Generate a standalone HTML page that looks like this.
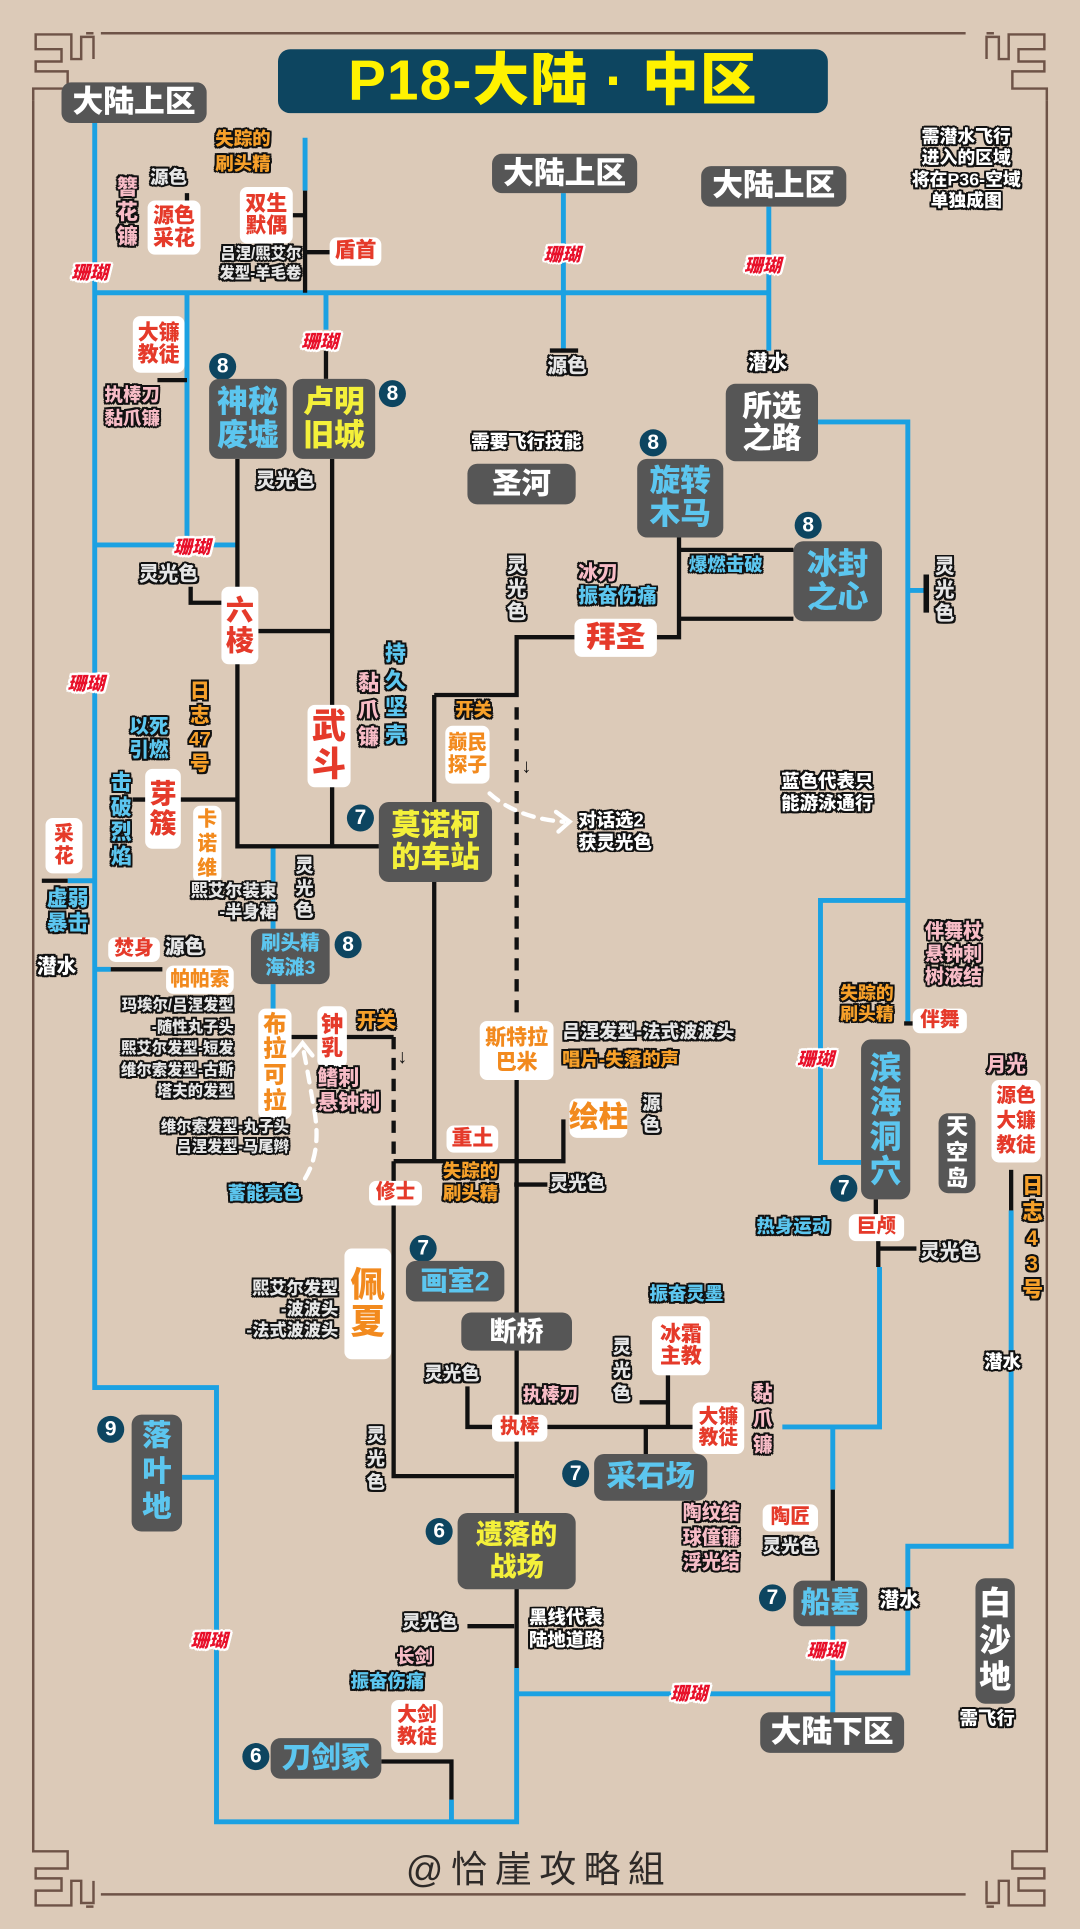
<!DOCTYPE html>
<html><head><meta charset="utf-8">
<style>
html,body{margin:0;padding:0;}
body{width:1080px;height:1929px;overflow:hidden;background:#dccab8;}
#w{position:absolute;left:0;top:0;width:878px;height:1568px;transform:scale(1.2301);transform-origin:0 0;font-family:"Liberation Sans","Noto Sans CJK SC",sans-serif;}
.a{position:absolute;white-space:nowrap;font-weight:900;line-height:1.2;}
.o{text-shadow:-1.5px -1.5px 0 #111,1.5px -1.5px 0 #111,-1.5px 1.5px 0 #111,1.5px 1.5px 0 #111,0 -1.6px 0 #111,0 1.6px 0 #111,-1.6px 0 0 #111,1.6px 0 0 #111;}
.gw{color:#e6e6e6}.pk{color:#f7bcc6}.bl{color:#5cc6ef}.or{color:#f6a02a}.wt{color:#fff}
.bx{position:absolute;display:flex;align-items:center;justify-content:center;text-align:center;font-weight:900;line-height:1.08;white-space:nowrap;}
.wb{background:#fff;border-radius:6px;color:#e53a2a;}
.wo{background:#fff;border-radius:6px;color:#f28a1e;}
.gb{background:#565656;border-radius:8px;color:#fff;}
.gb.bl{color:#5cc6ef}.gb.yl{color:#f4f03a}
.n{position:absolute;width:22px;height:22px;border-radius:50%;background:#0d4560;color:#fff;font-weight:900;font-size:17px;line-height:22px;text-align:center;}
.cr{position:absolute;color:#e8102a;font-weight:900;font-style:italic;font-size:15px;white-space:nowrap;text-shadow:-1.5px -1.5px 0 #fff,1.5px -1.5px 0 #fff,-1.5px 1.5px 0 #fff,1.5px 1.5px 0 #fff,0 2px 0 #fff,0 -2px 0 #fff,2px 0 0 #fff,-2px 0 0 #fff;}
.r{text-align:right}
.c{text-align:center}
</style></head><body><div id="w">
<svg width="878" height="1568" style="position:absolute;left:0;top:0">
<g fill="none" stroke="#6e5347" stroke-width="2">
<path d="M82 27H785M27 82V1495M851 82V1495M82 1540H785"/>
<path d="M27 82V72H55V58H29V50H50V40H29V28H58V48H66V30H76V48M70 27H76"/>
<path d="M851 82V72H823V58H849V50H828V40H849V28H820V48H812V30H802V48M808 27H802"/>
<path d="M27 1495V1505H55V1519H29V1527H50V1537H29V1549H58V1529H66V1547H76V1529M70 1550H76"/>
<path d="M851 1495V1505H823V1519H849V1527H828V1537H849V1549H820V1529H812V1547H802V1529M808 1550H802"/>
</g>
<g fill="none" stroke="#1ba1e2" stroke-width="4">
<path d="M77 100V1128H176V1481H420V1356"/>
<path d="M77 238H625"/>
<path d="M248 112V155"/>
<path d="M152 238V443M77 443H193"/>
<path d="M265 238V268"/>
<path d="M458 157V285"/>
<path d="M625 168V285"/>
<path d="M665 343H738V832"/>
<path d="M738 480H753"/>
<path d="M738 732H667V945H700"/>
<path d="M822 984V1257H738V1360H677"/>
<path d="M677 1320V1395"/>
<path d="M420 1377H677"/>
<path d="M636 1160H715V1030"/>
<path d="M677 1160V1211"/>
<path d="M222 688V755M222 800V820"/>
<path d="M55 716H77M90 788H77"/>
<path d="M148 1201H176"/>
<path d="M367 1463V1481"/>
</g>
<g fill="none" stroke="#111" stroke-width="3.5">
<path d="M248 155V238M238 175H248M248 205H268"/>
<path d="M152 157V164"/>
<path d="M128 309H152"/>
<path d="M265 285V308M447 285H470"/>
<path d="M193 373V688H308"/>
<path d="M270 373V688"/>
<path d="M155 477V490H180"/>
<path d="M210 513H270"/>
<path d="M108 650H193"/>
<path d="M34 716H55"/>
<path d="M90 788H132"/>
<path d="M237 843H320"/>
<path d="M320 944V1200H418"/>
<path d="M320 944H458V910"/>
<path d="M418 963H445"/>
<path d="M353 565V944"/>
<path d="M353 565H420V518H467M534 518H552V437M552 447H645M552 503H645"/>
<path d="M420 878V1356"/>
<path d="M380 1127V1160H583"/>
<path d="M525 1160V1185"/>
<path d="M543 1118V1160M520 1140H543"/>
<path d="M380 1322H418"/>
<path d="M310 1432H367V1463"/>
<path d="M712 975V987M714 1008V1030M714 1015H745"/>
<path d="M677 1211V1288"/>
<path d="M735 832H742"/>
<path d="M822 951V984"/>
<path d="M753 467V498" stroke-width="4.5"/>
<path d="M320 843V944M420 575V830" stroke-dasharray="10 7"/>
</g>
<g fill="none" stroke="#fff" stroke-width="3.5" stroke-dasharray="9 7" stroke-linecap="round">
<path d="M398 645Q420 665 458 668"/>
<path d="M248 958Q262 935 255 900Q250 870 246 850"/>
</g>
<g fill="none" stroke="#fff" stroke-width="3.5" stroke-linecap="round">
<path d="M452 660L463 668L454 676"/>
<path d="M238 858L246 848L254 858"/>
</g>
</svg>

<div class="bx" style="left:226px;top:40px;width:447px;height:52px;background:#0d4560;border-radius:10px;color:#fff200;font-size:46px;letter-spacing:1px">P18-大陆 · 中区</div>

<div class="bx gb" style="left:50px;top:67px;width:118px;height:33px;font-size:25px">大陆上区</div>
<div class="bx gb" style="left:400px;top:125px;width:118px;height:32px;font-size:25px">大陆上区</div>
<div class="bx gb" style="left:570px;top:135px;width:118px;height:33px;font-size:25px">大陆上区</div>
<div class="a o wt c" style="left:718px;top:104px;width:135px;font-size:14.5px">需潜水飞行<br>进入的区域<br>将在P36-空域<br>单独成图</div>

<div class="a o or" style="left:175px;top:104px;font-size:15px;line-height:1.3">失踪的<br>刷头精</div>
<div class="a o gw" style="left:122px;top:136px;font-size:15px">源色</div>
<div class="a o pk c" style="left:95px;top:143px;font-size:17px;line-height:1.17">簪<br>花<br>镰</div>
<div class="bx wb" style="left:120px;top:163px;width:43px;height:44px;font-size:17px">源色<br>采花</div>
<div class="bx wb" style="left:195px;top:152px;width:43px;height:46px;font-size:17px">双生<br>默偶</div>
<div class="a o gw r" style="left:160px;top:198px;width:85px;font-size:12.5px;line-height:1.3">吕涅/熙艾尔<br>发型-羊毛卷</div>
<div class="bx wb" style="left:268px;top:193px;width:42px;height:23px;font-size:17px">盾首</div>
<div class="cr" style="left:58px;top:211px">珊瑚</div>
<div class="cr" style="left:442px;top:196px">珊瑚</div>
<div class="cr" style="left:605px;top:205px">珊瑚</div>
<div class="a o gw" style="left:445px;top:289px;font-size:16px">源色</div>
<div class="a o wt" style="left:608px;top:286px;font-size:16px">潜水</div>
<div class="bx gb" style="left:590px;top:312px;width:75px;height:63px;font-size:24px">所选<br>之路</div>

<div class="bx wb" style="left:108px;top:257px;width:42px;height:46px;font-size:17px">大镰<br>教徒</div>
<div class="a o pk" style="left:85px;top:313px;font-size:15px;line-height:1.25">执棒刀<br>黏爪镰</div>
<div class="cr" style="left:245px;top:267px">珊瑚</div>
<div class="n" style="left:170px;top:287px">8</div>
<div class="bx gb bl" style="left:170px;top:308px;width:63px;height:65px;font-size:25px">神秘<br>废墟</div>
<div class="bx gb yl" style="left:238px;top:308px;width:67px;height:65px;font-size:25px">卢明<br>旧城</div>
<div class="n" style="left:308px;top:309px">8</div>
<div class="a o gw" style="left:208px;top:382px;font-size:16px">灵光色</div>
<div class="cr" style="left:141px;top:434px">珊瑚</div>
<div class="a o gw" style="left:113px;top:458px;font-size:16px">灵光色</div>
<div class="bx wb" style="left:180px;top:477px;width:30px;height:63px;font-size:23px">六<br>棱</div>
<div class="cr" style="left:55px;top:545px">珊瑚</div>
<div class="a o bl" style="left:105px;top:582px;font-size:16px">以死<br>引燃</div>
<div class="a o or c" style="left:150px;top:553px;width:25px;font-size:16px;line-height:1.22">日<br>志<br>47<br>号</div>
<div class="a o bl c" style="left:90px;top:627px;font-size:17px;line-height:1.17">击<br>破<br>烈<br>焰</div>
<div class="bx wb" style="left:118px;top:625px;width:29px;height:65px;font-size:22px">芽<br>簇</div>
<div class="bx wo" style="left:157px;top:655px;width:23px;height:63px;font-size:16px;line-height:1.25">卡<br>诺<br>维</div>
<div class="a o gw r" style="left:120px;top:716px;width:105px;font-size:14px">熙艾尔装束<br>-半身裙</div>
<div class="bx wb" style="left:37px;top:665px;width:30px;height:45px;font-size:16px">采<br>花</div>
<div class="a o bl" style="left:38px;top:721px;font-size:17px">虚弱<br>暴击</div>
<div class="a o wt" style="left:30px;top:777px;font-size:16px">潜水</div>
<div class="bx wb" style="left:88px;top:762px;width:42px;height:20px;font-size:16px">焚身</div>
<div class="a o gw" style="left:134px;top:761px;font-size:16px">源色</div>
<div class="bx wo" style="left:135px;top:785px;width:55px;height:23px;font-size:16px">帕帕索</div>
<div class="a o gw r" style="left:80px;top:809px;width:110px;font-size:12.5px;line-height:1.4">玛埃尔/吕涅发型<br>-随性丸子头<br>熙艾尔发型-短发<br>维尔索发型-古斯<br>塔夫的发型</div>
<div class="a o gw c" style="left:240px;top:696px;font-size:15px;line-height:1.2">灵<br>光<br>色</div>
<div class="bx gb bl" style="left:204px;top:755px;width:64px;height:45px;font-size:16px;line-height:1.2">刷头精<br>海滩3</div>
<div class="n" style="left:272px;top:757px">8</div>
<div class="bx wo" style="left:210px;top:820px;width:27px;height:90px;font-size:19px">布<br>拉<br>可<br>拉</div>
<div class="bx wb" style="left:258px;top:818px;width:24px;height:50px;font-size:18px">钟<br>乳</div>
<div class="a o or" style="left:290px;top:821px;font-size:16px">开关</div>
<div class="a" style="left:323px;top:850px;font-size:16px;color:#111;font-weight:400">↓</div>
<div class="a o pk" style="left:258px;top:867px;font-size:17px">鳍刺<br>悬钟刺</div>
<div class="a o gw r" style="left:105px;top:908px;width:130px;font-size:12.5px;line-height:1.3">维尔索发型-丸子头<br>吕涅发型-马尾辫</div>
<div class="a o bl" style="left:185px;top:962px;font-size:15px">蓄能亮色</div>

<div class="a o wt" style="left:383px;top:351px;font-size:15px">需要飞行技能</div>
<div class="bx gb" style="left:380px;top:377px;width:88px;height:33px;font-size:24px">圣河</div>
<div class="n" style="left:520px;top:349px">8</div>
<div class="bx gb bl" style="left:518px;top:373px;width:70px;height:64px;font-size:25px">旋转<br>木马</div>
<div class="n" style="left:646px;top:416px">8</div>
<div class="bx gb bl" style="left:645px;top:440px;width:72px;height:65px;font-size:25px">冰封<br>之心</div>
<div class="a o bl" style="left:560px;top:451px;font-size:15px">爆燃击破</div>
<div class="a o gw c" style="left:412px;top:451px;font-size:16px;line-height:1.2">灵<br>光<br>色</div>
<div class="a o pk" style="left:470px;top:457px;font-size:16px">冰刀</div>
<div class="a o bl" style="left:470px;top:476px;font-size:16px">振奋伤痛</div>
<div class="bx wb" style="left:467px;top:503px;width:67px;height:31px;font-size:24px">拜圣</div>
<div class="a o gw c" style="left:760px;top:452px;font-size:16px;line-height:1.2">灵<br>光<br>色</div>
<div class="a o or" style="left:370px;top:569px;font-size:15px">开关</div>
<div class="a" style="left:424px;top:614px;font-size:16px;color:#111;font-weight:400">↓</div>
<div class="bx wo" style="left:362px;top:590px;width:36px;height:47px;font-size:16px">巅民<br>探子</div>
<div class="a o wt" style="left:470px;top:659px;font-size:15px">对话选2<br>获灵光色</div>
<div class="a o bl c" style="left:313px;top:521px;font-size:17px;line-height:1.3">持<br>久<br>坚<br>壳</div>
<div class="a o pk c" style="left:291px;top:545px;font-size:17px;line-height:1.3">黏<br>爪<br>镰</div>
<div class="bx wb" style="left:250px;top:573px;width:35px;height:67px;font-size:28px">武<br>斗</div>
<div class="n" style="left:282px;top:654px">7</div>
<div class="bx gb yl" style="left:308px;top:652px;width:92px;height:65px;font-size:24px">莫诺柯<br>的车站</div>

<div class="a o wt" style="left:635px;top:627px;font-size:15px">蓝色代表只<br>能游泳通行</div>
<div class="a o pk" style="left:752px;top:749px;font-size:15.5px">伴舞杖<br>悬钟刺<br>树液结</div>
<div class="a o or" style="left:683px;top:800px;font-size:14.5px">失踪的<br>刷头精</div>
<div class="bx wb" style="left:742px;top:820px;width:44px;height:20px;font-size:16px">伴舞</div>
<div class="cr" style="left:648px;top:850px">珊瑚</div>
<div class="bx gb bl" style="left:700px;top:845px;width:40px;height:130px;font-size:26px">滨<br>海<br>洞<br>穴</div>
<div class="n" style="left:675px;top:955px">7</div>
<div class="bx gb" style="left:763px;top:905px;width:30px;height:65px;font-size:18px;line-height:1.15">天<br>空<br>岛</div>
<div class="a o pk" style="left:802px;top:857px;font-size:16px">月光</div>
<div class="bx wb" style="left:806px;top:878px;width:40px;height:67px;font-size:16px;line-height:1.25">源色<br>大镰<br>教徒</div>
<div class="a o or c" style="left:831px;top:954px;width:16px;font-size:17px;line-height:1.24">日<br>志<br>4<br>3<br>号</div>
<div class="a o bl" style="left:615px;top:989px;font-size:15px">热身运动</div>
<div class="bx wb" style="left:690px;top:987px;width:45px;height:22px;font-size:16px">巨颅</div>
<div class="a o gw" style="left:748px;top:1009px;font-size:16px">灵光色</div>
<div class="a o wt" style="left:800px;top:1099px;font-size:15px">潜水</div>

<div class="bx wo" style="left:390px;top:830px;width:60px;height:48px;font-size:17px;line-height:1.2">斯特拉<br>巴米</div>
<div class="a o gw" style="left:457px;top:831px;font-size:15px">吕涅发型-法式波波头</div>
<div class="a o or" style="left:457px;top:853px;font-size:15px">唱片-失落的声</div>
<div class="bx wo" style="left:463px;top:893px;width:47px;height:32px;font-size:24px">绘柱</div>
<div class="a o gw c" style="left:522px;top:889px;font-size:15px">源<br>色</div>
<div class="bx wb" style="left:363px;top:915px;width:42px;height:22px;font-size:17px">重土</div>
<div class="a o or" style="left:360px;top:944px;font-size:15px">失踪的<br>刷头精</div>
<div class="a o gw" style="left:447px;top:954px;font-size:15px">灵光色</div>
<div class="bx wb" style="left:300px;top:960px;width:43px;height:20px;font-size:16px">修士</div>
<div class="n" style="left:333px;top:1004px">7</div>
<div class="bx gb bl" style="left:330px;top:1025px;width:80px;height:33px;font-size:22px">画室2</div>
<div class="a o gw r" style="left:170px;top:1039px;width:105px;font-size:14px">熙艾尔发型<br>-波波头<br>-法式波波头</div>
<div class="bx wo" style="left:280px;top:1015px;width:38px;height:90px;font-size:28px">佩<br>夏</div>
<div class="bx gb" style="left:375px;top:1067px;width:90px;height:31px;font-size:22px">断桥</div>
<div class="a o bl" style="left:528px;top:1044px;font-size:15px">振奋灵墨</div>
<div class="bx wb" style="left:530px;top:1070px;width:47px;height:48px;font-size:17px">冰霜<br>主教</div>
<div class="a o gw c" style="left:498px;top:1087px;font-size:15px;line-height:1.25">灵<br>光<br>色</div>
<div class="a o gw" style="left:345px;top:1109px;font-size:15px">灵光色</div>
<div class="a o pk" style="left:425px;top:1126px;font-size:15px">执棒刀</div>
<div class="bx wb" style="left:400px;top:1150px;width:45px;height:22px;font-size:16px">执棒</div>
<div class="bx wb" style="left:563px;top:1140px;width:42px;height:42px;font-size:16px">大镰<br>教徒</div>
<div class="a o pk c" style="left:612px;top:1124px;font-size:16px;line-height:1.3">黏<br>爪<br>镰</div>
<div class="n" style="left:457px;top:1187px">7</div>
<div class="bx gb bl" style="left:483px;top:1182px;width:92px;height:38px;font-size:24px">采石场</div>
<div class="a o pk" style="left:555px;top:1221px;font-size:15.5px;line-height:1.3">陶纹结<br>球僮镰<br>浮光结</div>
<div class="bx wb" style="left:620px;top:1223px;width:45px;height:22px;font-size:16px">陶匠</div>
<div class="a o gw" style="left:620px;top:1249px;font-size:15px">灵光色</div>
<div class="n" style="left:617px;top:1288px">7</div>
<div class="bx gb bl" style="left:645px;top:1285px;width:60px;height:37px;font-size:24px">船墓</div>
<div class="a o wt" style="left:715px;top:1292px;font-size:16px">潜水</div>
<div class="cr" style="left:656px;top:1331px">珊瑚</div>
<div class="bx gb" style="left:793px;top:1283px;width:32px;height:102px;font-size:26px;line-height:1.15">白<br>沙<br>地</div>
<div class="a o wt" style="left:780px;top:1389px;font-size:15px">需飞行</div>
<div class="bx gb" style="left:618px;top:1392px;width:117px;height:33px;font-size:25px">大陆下区</div>
<div class="cr" style="left:545px;top:1366px">珊瑚</div>

<div class="a o gw c" style="left:298px;top:1159px;font-size:15px;line-height:1.25">灵<br>光<br>色</div>
<div class="n" style="left:79px;top:1151px">9</div>
<div class="bx gb bl" style="left:107px;top:1150px;width:41px;height:95px;font-size:24px;line-height:1.2">落<br>叶<br>地</div>
<div class="cr" style="left:155px;top:1323px">珊瑚</div>
<div class="n" style="left:346px;top:1234px">6</div>
<div class="bx gb yl" style="left:372px;top:1230px;width:96px;height:62px;font-size:22px;line-height:1.2">遗落的<br>战场</div>
<div class="a o gw" style="left:327px;top:1311px;font-size:15px">灵光色</div>
<div class="a o wt" style="left:430px;top:1307px;font-size:15px">黑线代表<br>陆地道路</div>
<div class="a o pk" style="left:322px;top:1339px;font-size:15px">长剑</div>
<div class="a o bl" style="left:285px;top:1359px;font-size:15px">振奋伤痛</div>
<div class="bx wb" style="left:318px;top:1382px;width:42px;height:43px;font-size:16px">大剑<br>教徒</div>
<div class="n" style="left:197px;top:1417px">6</div>
<div class="bx gb bl" style="left:220px;top:1413px;width:90px;height:33px;font-size:24px">刀剑冢</div>

<div class="a c" style="left:330px;top:1503px;width:215px;font-size:30px;font-weight:400;color:#2e2a28;letter-spacing:6px">@恰崖攻略組</div>
</div></body></html>
